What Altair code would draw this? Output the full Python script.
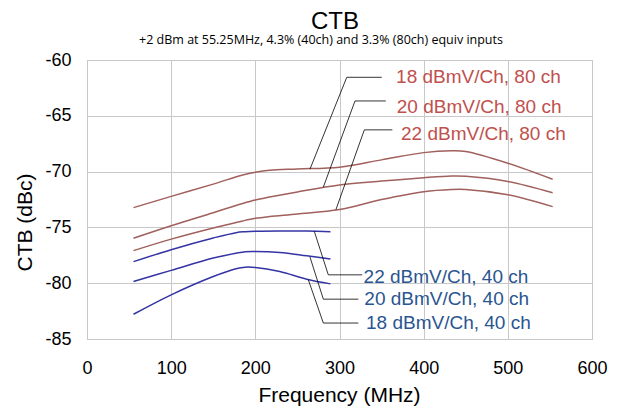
import altair as alt
import pandas as pd

# ---- data ----
freq_80 = [55.25, 100, 150, 185, 200, 217, 250, 300, 350, 400, 433, 450, 500, 553.25]
ctb_18dbmv_80ch = [-73.23, -72.22, -71.12, -70.3, -70.05, -69.87, -69.76, -69.61, -68.95, -68.3, -68.14, -68.2, -69.25, -70.69]
ctb_20dbmv_80ch = [-75.97, -74.85, -73.68, -72.85, -72.54, -72.28, -71.82, -71.2, -70.85, -70.55, -70.4, -70.42, -70.88, -71.89]
ctb_22dbmv_80ch = [-77.08, -76.05, -75.05, -74.42, -74.19, -74.03, -73.8, -73.4, -72.5, -71.8, -71.6, -71.6, -72.08, -73.14]

freq_40 = [55.25, 100, 150, 177, 188, 200, 229, 261, 289.25]
ctb_22dbmv_40ch = [-78.07, -77.0, -75.95, -75.47, -75.39, -75.35, -75.32, -75.33, -75.38]
ctb_20dbmv_40ch = [-79.85, -78.85, -77.75, -77.32, -77.18, -77.16, -77.25, -77.55, -77.83]
ctb_18dbmv_40ch = [-82.78, -81.04, -79.4, -78.7, -78.56, -78.59, -78.96, -79.64, -80.06]

series_names = ["18 dBmV/Ch, 80 ch", "20 dBmV/Ch, 80 ch", "22 dBmV/Ch, 80 ch",
                "22 dBmV/Ch, 40 ch", "20 dBmV/Ch, 40 ch", "18 dBmV/Ch, 40 ch"]
series_group = ["80", "80", "80", "40", "40", "40"]

# label anchor positions (data units)
label_x = [367.2, 368.0, 373.1, 328.6, 329.5, 331.5]
label_y = [-61.55, -64.18, -66.62, -79.4, -81.42, -83.57]

# leader lines: point on curve -> elbow -> end near label
leader_x = [[264.9, 308.6, 350.2], [280.8, 318.4, 355.0], [295.8, 329.5, 362.8],
            [270.0, 286.7, 327.0], [264.9, 280.8, 322.4], [262.9, 280.8, 322.4]]
leader_y = [[-69.78, -61.55, -61.55], [-71.39, -63.67, -63.67], [-73.4, -66.26, -66.26],
            [-75.34, -79.25, -79.25], [-77.65, -81.43, -81.43], [-79.68, -83.57, -83.57]]

x_ticks = [0, 100, 200, 300, 400, 500, 600]
y_ticks = [-85, -80, -75, -70, -65, -60]

title_text = "CTB"
subtitle_text = "+2 dBm at 55.25MHz, 4.3% (40ch) and 3.3% (80ch) equiv inputs"

# ---- build tables ----
rows = []
for name, vals in zip(series_names[:3], [ctb_18dbmv_80ch, ctb_20dbmv_80ch, ctb_22dbmv_80ch]):
    for f, v in zip(freq_80, vals):
        rows.append({"series": name, "group": "80", "freq": f, "ctb": v})
for name, vals in zip(series_names[3:], [ctb_22dbmv_40ch, ctb_20dbmv_40ch, ctb_18dbmv_40ch]):
    for f, v in zip(freq_40, vals):
        rows.append({"series": name, "group": "40", "freq": f, "ctb": v})
df_lines = pd.DataFrame(rows)

lrows = []
for name, xs, ys in zip(series_names, leader_x, leader_y):
    for i, (a, b) in enumerate(zip(xs, ys)):
        lrows.append({"series": name, "order": i, "freq": a, "ctb": b})
df_leaders = pd.DataFrame(lrows)

df_labels = pd.DataFrame({"series": series_names, "group": series_group,
                          "freq": label_x, "ctb": label_y})
df_title = pd.DataFrame({"t": [title_text]})
df_sub = pd.DataFrame({"t": [subtitle_text]})

xscale = alt.Scale(domain=[0, 600], nice=False)
yscale = alt.Scale(domain=[-85, -60], nice=False)

xenc = alt.X("freq:Q", scale=xscale,
             axis=alt.Axis(values=x_ticks, title="Frequency (MHz)", labelPadding=20,
                           labelFlush=False, labelOverlap=False,
                           titleX=252, titleY=56, titleBaseline="middle"))
yenc = alt.Y("ctb:Q", scale=yscale,
             axis=alt.Axis(values=y_ticks, title="CTB (dBc)", labelPadding=16,
                           labelExpr="toString(datum.value)", labelFlush=False,
                           titleX=-62, titleY=162, titleAngle=-90,
                           titleBaseline="middle", titleAlign="center"))

lines = alt.Chart(df_lines).mark_line(interpolate="catmull-rom", strokeWidth=1.5).encode(
    x=xenc, y=yenc,
    color=alt.Color("group:N", scale=alt.Scale(domain=["80", "40"], range=["#A0605C", "#3434A4"]), legend=None),
    detail="series:N",
)

leaders = alt.Chart(df_leaders).mark_line(color="black", strokeWidth=0.8).encode(
    x="freq:Q", y="ctb:Q", detail="series:N", order="order:Q"
)

labels = alt.Chart(df_labels).mark_text(align="left", baseline="middle", fontSize=19,
                                         font="Liberation Sans").encode(
    x="freq:Q", y="ctb:Q", text="series:N",
    color=alt.Color("group:N", scale=alt.Scale(domain=["80", "40"], range=["#C0504D", "#2A5590"]), legend=None),
)

title = alt.Chart(df_title).mark_text(align="center", baseline="middle", fontSize=24,
                                      font="Liberation Sans", color="black").encode(
    x=alt.value(248), y=alt.value(-38.5), text="t:N"
)

subtitle = alt.Chart(df_sub).mark_text(align="center", baseline="middle", fontSize=12.5,
                                       font="Liberation Sans Narrow, Open Sans", color="black").encode(
    x=alt.value(234), y=alt.value(-20.5), text="t:N"
)

chart = alt.layer(lines, leaders, labels, title, subtitle).resolve_scale(
    color="independent"
).properties(
    width=505, height=279,
    autosize=alt.AutoSizeParams(type="none"),
    padding={"left": 79, "top": 52, "right": 18, "bottom": 68},
).configure_view(stroke="#A6A6A6", strokeWidth=1).configure_axis(
    grid=True, gridColor="#C8C8C8", domain=False, ticks=False,
    labelFont="Liberation Sans", labelFontSize=18, labelColor="black",
    titleFont="Liberation Sans", titleFontSize=21, titleFontWeight="normal", titleColor="black",
)

chart.save("out.html", embed_options={"renderer": "svg", "actions": False})
